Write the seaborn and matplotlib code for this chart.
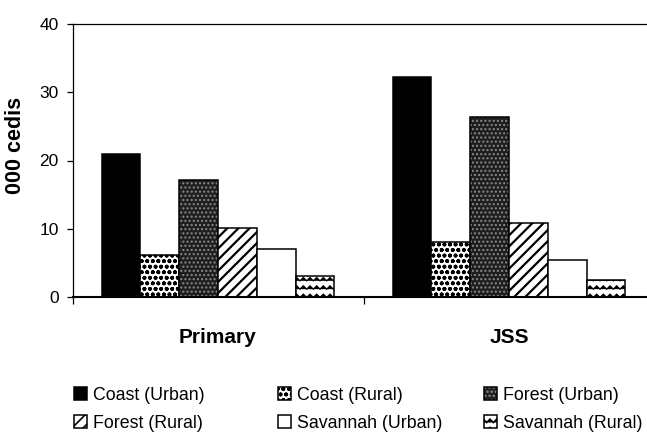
import numpy as np
import pandas as pd
import matplotlib
matplotlib.use("Agg")
import matplotlib.pyplot as plt
import matplotlib.hatch as mhatch
from matplotlib.path import Path
from matplotlib.colors import to_rgba
import seaborn as sns

# ---------------- data ----------------
levels = ["Primary", "JSS"]
groups = ["Coast (Urban)", "Coast (Rural)", "Forest (Urban)",
          "Forest (Rural)", "Savannah (Urban)", "Savannah (Rural)"]
primary_vals = [20.9, 6.1, 17.1, 10.1, 7.1, 3.1]
jss_vals = [32.3, 8.0, 26.4, 10.8, 5.4, 2.5]
y_ticks = [0, 10, 20, 30, 40]
y_label = "000 cedis"

# ---------------- custom zigzag hatch (replaces '-') ----------------
class ZigZagHatch(mhatch.HatchPatternBase):
    def __init__(self, hatch, density):
        self.num_lines = int(hatch.count('-') * density)
        self.teeth = 15
        self.npts = self.teeth * 2 + 1
        self.num_vertices = self.num_lines * self.npts

    def set_vertices_and_codes(self, vertices, codes):
        step = 1.0 / self.num_lines
        xs = np.linspace(0, 1, self.npts)
        amp = step * 0.2
        off = np.where(np.arange(self.npts) % 2 == 0, -amp, amp)
        for i in range(self.num_lines):
            y = i * step + step / 2
            sl = slice(i * self.npts, (i + 1) * self.npts)
            vertices[sl, 0] = xs
            vertices[sl, 1] = y + off
            codes[sl] = Path.LINETO
            codes[i * self.npts] = Path.MOVETO

mhatch._hatch_types = [ZigZagHatch if t is mhatch.HorizontalHatch else t
                       for t in mhatch._hatch_types]

# ---------------- styling ----------------
sns.set_theme(style="white")
plt.rcParams['font.family'] = ['Liberation Sans', 'DejaVu Sans']
plt.rcParams['hatch.linewidth'] = 1.2
for k in ["text.color", "axes.labelcolor", "xtick.color", "ytick.color"]:
    plt.rcParams[k] = "black"

faces = ["#000000", "#ffffff", "#1e1e1e", "#ffffff", "#ffffff", "#ffffff"]
hatches = [None, "ooo", "....", "///", None, "--"]
hatch_cols = ["#000000", "#000000", "#8a8a8a", "#000000", "#000000", "#000000"]
hatch_lws = [1.0, 1.2, 1.0, 1.6, 1.0, 0.9]

df = pd.DataFrame({
    "level": np.repeat(levels, len(groups)),
    "group": groups * len(levels),
    "value": primary_vals + jss_vals,
})

fig = plt.figure(figsize=(6.47, 4.33), dpi=100)
ax = fig.add_axes([72.5 / 647, 136 / 433, 582 / 647, 273 / 433])

sns.barplot(data=df, x="level", y="value", hue="group", order=levels,
            hue_order=groups, palette=faces, width=0.8, saturation=1,
            edgecolor="black", linewidth=1.1, legend=False, ax=ax)

for cont, h, hc, hlw in zip(ax.containers, hatches, hatch_cols, hatch_lws):
    for p in cont.patches:
        p.set_edgecolor("black")
        if h:
            p.set_hatch(h)
            if hasattr(p, "set_hatchcolor"):
                p.set_hatchcolor(hc)
            else:
                p._hatch_color = to_rgba(hc)
            if hasattr(p, "set_hatch_linewidth"):
                p.set_hatch_linewidth(hlw)
            p.stale = True

ax.set_xlim(-0.5, 1.5)
ax.set_ylim(0, 40)
ax.set_yticks(y_ticks)
ax.set_xlabel("")
ax.set_ylabel(y_label, fontsize=15.5, fontweight="bold")
ax.yaxis.set_label_coords(-0.08, 0.557)

for s in ["left", "top", "bottom"]:
    ax.spines[s].set_visible(True)
    ax.spines[s].set_color("black")
ax.spines["right"].set_visible(False)
ax.spines["left"].set_linewidth(0.9)
ax.spines["top"].set_linewidth(0.9)
ax.spines["bottom"].set_linewidth(1.5)

ax.tick_params(axis="y", which="major", left=True, direction="out",
               length=4, width=0.9, color="black", labelsize=12.5, pad=6)
ax.tick_params(axis="x", which="major", bottom=False, labelsize=15, pad=16)
for lab in ax.get_xticklabels():
    lab.set_fontweight("bold")
ax.set_xticks([-0.5, 0.5, 1.5], minor=True)
ax.tick_params(axis="x", which="minor", bottom=True, direction="out",
               length=5, width=0.9, color="black")
ax.grid(False)

# ---------------- legend (row-major, 3 columns) ----------------
handles = [c.patches[0] for c in ax.containers]
col_x = [74 / 647, 278 / 647, 484 / 647]
for ci, x in enumerate(col_x):
    idx = [ci, ci + 3]
    fig.legend([handles[i] for i in idx], [groups[i] for i in idx],
               loc="upper left", bbox_to_anchor=(x, 46 / 433),
               frameon=False, fontsize=12.8, borderpad=0, borderaxespad=0,
               handlelength=0.75, handleheight=0.75,
               handletextpad=0.3, labelspacing=0.62)

fig.savefig("out.png", dpi=100)
